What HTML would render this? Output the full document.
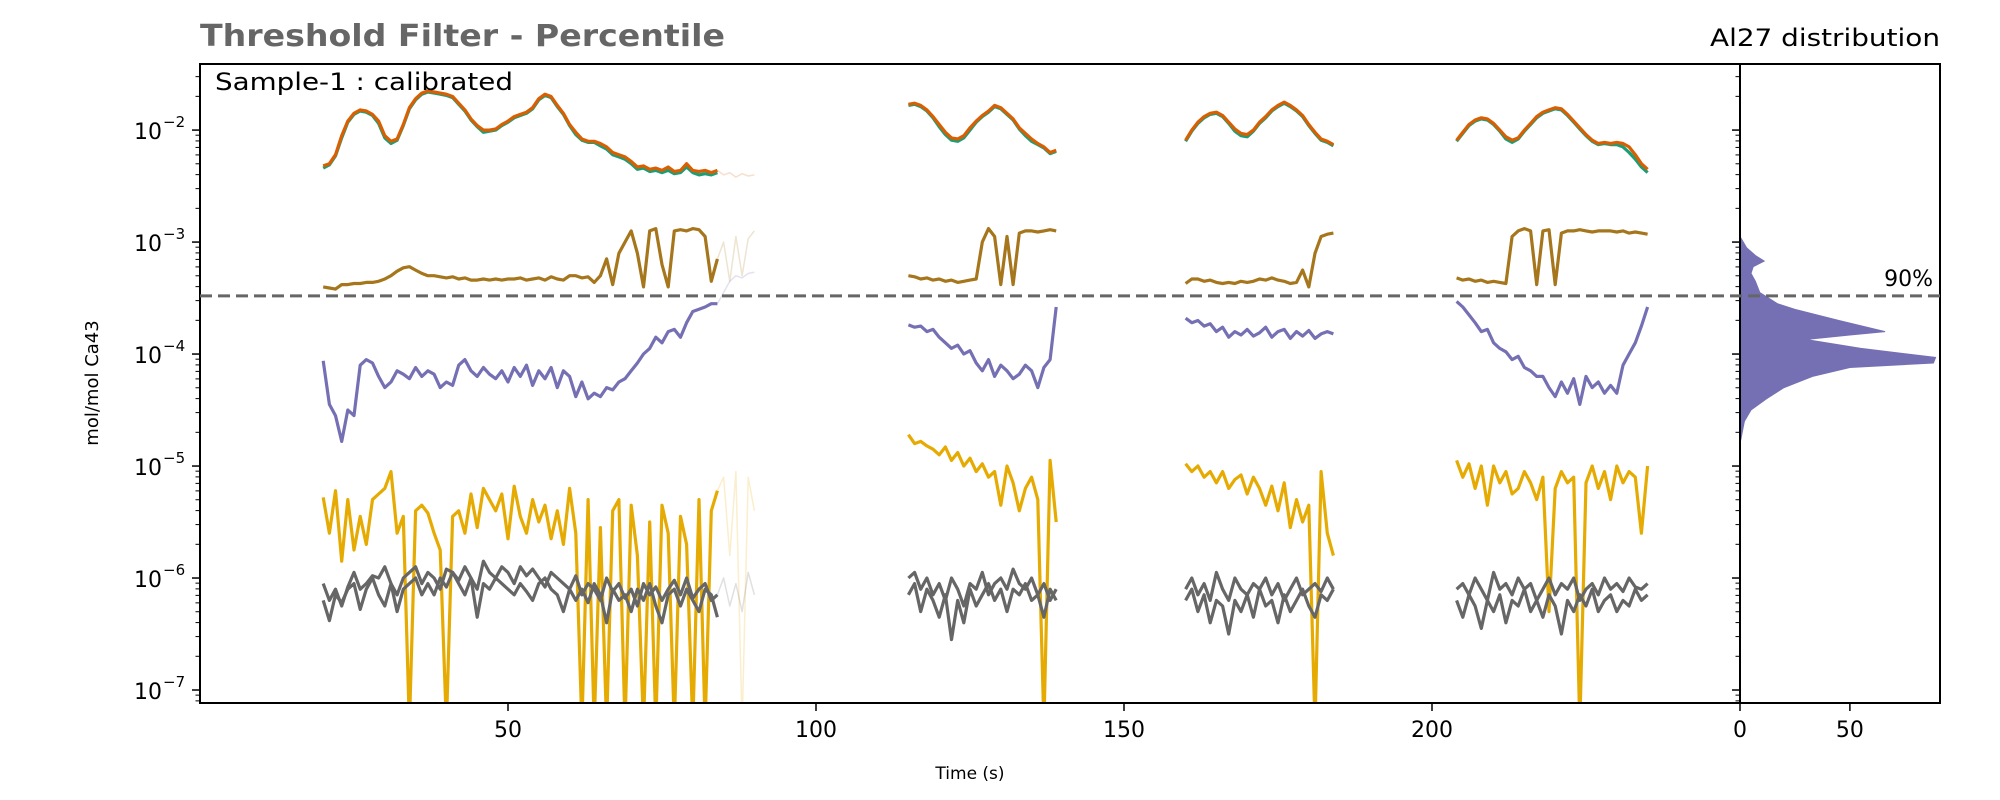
<!DOCTYPE html>
<html><head><meta charset="utf-8"><style>
html,body{margin:0;padding:0;background:#fff;}
svg{display:block;font-family:"DejaVu Sans","Liberation Sans",sans-serif;}
</style></head><body>
<svg id="chart" width="2000" height="800" viewBox="0 0 2000 800" xmlns="http://www.w3.org/2000/svg">
<text x="200" y="46" font-size="30" font-weight="bold" fill="#666" textLength="525" lengthAdjust="spacingAndGlyphs">Threshold Filter - Percentile</text>
<text x="1940" y="46" font-size="24" text-anchor="end" fill="#000" textLength="230" lengthAdjust="spacingAndGlyphs">Al27 distribution</text>
<text transform="translate(98,383) rotate(-90)" font-size="18" text-anchor="middle">mol/mol Ca43</text>
<text x="970" y="779" font-size="17" text-anchor="middle">Time (s)</text>
<g id="main"></g>
<g id="side"></g>
</svg>
<script>
// ---- data (log10 mol/mol Ca43), 1 s sampling per segment ----
const segStarts = [20, 115, 160, 204];
const orangeS = [
[-2.32,-2.3,-2.22,-2.05,-1.92,-1.85,-1.82,-1.83,-1.86,-1.92,-2.05,-2.1,-2.08,-1.95,-1.8,-1.72,-1.67,-1.65,-1.66,-1.67,-1.68,-1.7,-1.76,-1.82,-1.9,-1.96,-2.0,-2.0,-1.99,-1.95,-1.92,-1.88,-1.86,-1.84,-1.8,-1.72,-1.68,-1.7,-1.78,-1.85,-1.95,-2.02,-2.08,-2.1,-2.1,-2.12,-2.15,-2.2,-2.22,-2.24,-2.28,-2.33,-2.32,-2.35,-2.34,-2.36,-2.33,-2.37,-2.36,-2.3,-2.36,-2.37,-2.36,-2.38,-2.36],
[-1.77,-1.76,-1.78,-1.82,-1.88,-1.95,-2.02,-2.07,-2.08,-2.05,-1.98,-1.92,-1.87,-1.83,-1.78,-1.8,-1.85,-1.9,-1.98,-2.03,-2.08,-2.12,-2.15,-2.2,-2.18],
[-2.09,-2.0,-1.93,-1.88,-1.85,-1.84,-1.87,-1.93,-1.99,-2.03,-2.04,-2.0,-1.93,-1.88,-1.82,-1.78,-1.75,-1.78,-1.82,-1.87,-1.95,-2.02,-2.08,-2.1,-2.13],
[-2.09,-2.02,-1.95,-1.91,-1.89,-1.9,-1.94,-2.0,-2.06,-2.09,-2.07,-2.0,-1.94,-1.88,-1.84,-1.82,-1.8,-1.81,-1.86,-1.92,-1.98,-2.04,-2.09,-2.12,-2.11,-2.12,-2.11,-2.12,-2.15,-2.22,-2.3,-2.35]];
const greenS = [
[-2.34,-2.31,-2.23,-2.07,-1.93,-1.86,-1.83,-1.84,-1.87,-1.94,-2.07,-2.12,-2.09,-1.96,-1.81,-1.73,-1.68,-1.66,-1.67,-1.68,-1.69,-1.71,-1.77,-1.83,-1.91,-1.97,-2.02,-2.01,-2.0,-1.96,-1.93,-1.89,-1.87,-1.85,-1.81,-1.73,-1.69,-1.71,-1.79,-1.86,-1.96,-2.04,-2.09,-2.11,-2.11,-2.14,-2.17,-2.22,-2.24,-2.26,-2.3,-2.35,-2.34,-2.37,-2.36,-2.38,-2.36,-2.39,-2.38,-2.33,-2.38,-2.4,-2.39,-2.4,-2.38],
[-1.78,-1.77,-1.79,-1.83,-1.89,-1.97,-2.04,-2.09,-2.1,-2.07,-2.0,-1.93,-1.88,-1.84,-1.79,-1.81,-1.86,-1.91,-1.99,-2.05,-2.1,-2.13,-2.16,-2.21,-2.19],
[-2.1,-2.01,-1.94,-1.89,-1.86,-1.85,-1.88,-1.94,-2.01,-2.05,-2.06,-2.01,-1.94,-1.89,-1.83,-1.79,-1.76,-1.79,-1.83,-1.88,-1.96,-2.03,-2.09,-2.11,-2.14],
[-2.1,-2.03,-1.96,-1.92,-1.9,-1.91,-1.95,-2.01,-2.08,-2.11,-2.08,-2.01,-1.95,-1.89,-1.85,-1.83,-1.81,-1.82,-1.87,-1.93,-1.99,-2.05,-2.1,-2.13,-2.12,-2.13,-2.13,-2.15,-2.2,-2.26,-2.33,-2.38]];
const brownS = [
[-3.4,-3.41,-3.42,-3.38,-3.38,-3.37,-3.37,-3.36,-3.36,-3.35,-3.33,-3.3,-3.26,-3.23,-3.22,-3.25,-3.28,-3.3,-3.3,-3.31,-3.32,-3.31,-3.33,-3.32,-3.34,-3.34,-3.33,-3.34,-3.33,-3.34,-3.33,-3.33,-3.32,-3.34,-3.33,-3.32,-3.34,-3.31,-3.33,-3.34,-3.3,-3.3,-3.32,-3.31,-3.36,-3.3,-3.15,-3.38,-3.1,-3.0,-2.9,-3.1,-3.4,-2.9,-2.88,-3.2,-3.4,-2.9,-2.89,-2.9,-2.88,-2.89,-2.95,-3.35,-3.15],
[-3.3,-3.31,-3.33,-3.32,-3.34,-3.33,-3.35,-3.34,-3.36,-3.35,-3.34,-3.33,-3.0,-2.88,-2.95,-3.38,-2.95,-3.38,-2.92,-2.9,-2.9,-2.91,-2.9,-2.89,-2.9],
[-3.37,-3.33,-3.33,-3.35,-3.34,-3.36,-3.37,-3.36,-3.37,-3.35,-3.36,-3.35,-3.33,-3.34,-3.32,-3.34,-3.35,-3.37,-3.36,-3.25,-3.4,-3.1,-2.95,-2.93,-2.92],
[-3.32,-3.34,-3.33,-3.35,-3.34,-3.36,-3.35,-3.36,-3.37,-2.95,-2.9,-2.88,-2.9,-3.38,-2.9,-2.89,-3.38,-2.92,-2.9,-2.9,-2.89,-2.9,-2.91,-2.9,-2.9,-2.9,-2.91,-2.9,-2.92,-2.91,-2.92,-2.93]];
const purpleS = [
[-4.06,-4.45,-4.55,-4.78,-4.5,-4.55,-4.1,-4.05,-4.08,-4.2,-4.3,-4.25,-4.15,-4.18,-4.22,-4.12,-4.2,-4.15,-4.18,-4.3,-4.25,-4.28,-4.1,-4.05,-4.15,-4.2,-4.12,-4.18,-4.22,-4.15,-4.25,-4.12,-4.2,-4.1,-4.28,-4.15,-4.22,-4.12,-4.3,-4.15,-4.2,-4.38,-4.25,-4.4,-4.35,-4.38,-4.3,-4.32,-4.25,-4.22,-4.15,-4.08,-4.0,-3.95,-3.85,-3.9,-3.8,-3.78,-3.85,-3.72,-3.62,-3.6,-3.58,-3.55,-3.55],
[-3.74,-3.76,-3.75,-3.8,-3.78,-3.85,-3.9,-3.95,-3.92,-4.0,-3.97,-4.08,-4.15,-4.05,-4.2,-4.1,-4.15,-4.22,-4.18,-4.1,-4.15,-4.3,-4.12,-4.05,-3.58],
[-3.68,-3.72,-3.7,-3.75,-3.73,-3.8,-3.76,-3.85,-3.8,-3.83,-3.78,-3.84,-3.81,-3.76,-3.85,-3.8,-3.78,-3.86,-3.8,-3.84,-3.79,-3.86,-3.82,-3.8,-3.82],
[-3.53,-3.58,-3.65,-3.72,-3.8,-3.78,-3.9,-3.95,-3.98,-4.05,-4.02,-4.12,-4.15,-4.2,-4.2,-4.3,-4.38,-4.25,-4.35,-4.22,-4.45,-4.2,-4.3,-4.25,-4.35,-4.28,-4.35,-4.1,-4.0,-3.9,-3.75,-3.58]];
const yellowS = [
[-5.28,-5.6,-5.22,-5.85,-5.3,-5.75,-5.45,-5.7,-5.3,-5.25,-5.2,-5.05,-5.6,-5.45,-8,-5.4,-5.35,-5.42,-5.6,-5.75,-8,-5.45,-5.4,-5.6,-5.25,-5.55,-5.2,-5.3,-5.4,-5.25,-5.65,-5.18,-5.45,-5.6,-5.3,-5.5,-5.35,-5.65,-5.4,-5.7,-5.2,-5.6,-8,-5.3,-8,-5.55,-8,-5.4,-5.3,-8,-5.35,-5.8,-8,-5.5,-8,-5.35,-5.6,-8,-5.45,-5.7,-8,-5.3,-8,-5.4,-5.22],
[-4.72,-4.8,-4.78,-4.82,-4.85,-4.9,-4.83,-4.95,-4.88,-5.0,-4.93,-5.05,-4.98,-5.1,-5.05,-5.35,-5.0,-5.15,-5.4,-5.2,-5.1,-5.3,-8,-4.95,-5.5],
[-4.98,-5.05,-5.0,-5.1,-5.05,-5.15,-5.05,-5.2,-5.12,-5.08,-5.25,-5.1,-5.2,-5.35,-5.18,-5.4,-5.15,-5.55,-5.3,-5.5,-5.35,-8,-5.05,-5.6,-5.8],
[-4.95,-5.1,-4.98,-5.2,-5.0,-5.35,-5.0,-5.15,-5.05,-5.25,-5.2,-5.05,-5.15,-5.3,-5.1,-6.3,-5.2,-5.05,-5.15,-5.1,-8,-5.15,-5.0,-5.2,-5.05,-5.3,-5.0,-5.15,-5.05,-5.1,-5.6,-5.0]];
const grayAS = [
[-6.05,-6.2,-6.1,-6.25,-6.08,-5.95,-6.1,-6.05,-5.98,-6.0,-5.9,-6.05,-6.15,-6.0,-5.95,-5.9,-6.05,-5.95,-6.0,-6.1,-5.92,-5.95,-6.02,-5.9,-6.0,-6.1,-5.85,-5.95,-6.0,-5.9,-5.95,-6.05,-5.9,-5.98,-5.92,-6.0,-6.08,-5.95,-6.0,-6.05,-6.1,-5.98,-6.15,-6.05,-6.1,-6.2,-6.0,-6.12,-6.05,-6.18,-6.1,-6.25,-6.05,-6.15,-6.08,-6.2,-6.1,-6.02,-6.15,-6.0,-6.18,-6.1,-6.05,-6.2,-6.15],
[-6.0,-5.95,-6.1,-6.0,-6.15,-6.05,-6.2,-6.0,-6.1,-6.25,-6.05,-6.1,-5.95,-6.15,-6.05,-6.0,-6.1,-5.92,-6.05,-6.1,-6.0,-6.15,-6.05,-6.2,-6.1],
[-6.1,-6.0,-6.15,-6.05,-6.2,-5.95,-6.1,-6.2,-6.0,-6.1,-6.15,-6.05,-6.1,-6.0,-6.15,-6.05,-6.2,-6.1,-6.0,-6.15,-6.1,-6.05,-6.12,-6.0,-6.1],
[-6.1,-6.05,-6.15,-6.0,-6.1,-6.2,-5.95,-6.1,-6.05,-6.15,-6.0,-6.1,-6.05,-6.2,-6.1,-6.0,-6.15,-6.05,-6.1,-6.0,-6.2,-6.1,-6.05,-6.15,-6.0,-6.1,-6.05,-6.12,-6.0,-6.08,-6.1,-6.05]];
const grayBS = [
[-6.2,-6.38,-6.15,-6.22,-6.1,-6.05,-6.28,-6.1,-6.0,-6.15,-6.25,-6.05,-6.3,-6.1,-6.05,-6.0,-6.15,-6.05,-6.15,-6.0,-6.08,-5.95,-6.05,-6.15,-6.0,-6.35,-6.05,-6.1,-6.0,-6.05,-6.1,-6.15,-6.05,-6.12,-6.2,-6.05,-6.0,-6.1,-6.15,-6.3,-6.1,-6.2,-6.1,-6.22,-6.05,-6.15,-6.4,-6.1,-6.2,-6.15,-6.3,-6.1,-6.2,-6.05,-6.25,-6.4,-6.15,-6.1,-6.25,-6.1,-6.2,-6.3,-6.1,-6.15,-6.35],
[-6.15,-6.05,-6.3,-6.1,-6.2,-6.35,-6.15,-6.55,-6.2,-6.4,-6.1,-6.25,-6.15,-6.05,-6.2,-6.1,-6.3,-6.1,-6.15,-6.05,-6.2,-6.15,-6.35,-6.1,-6.2],
[-6.2,-6.1,-6.3,-6.15,-6.4,-6.2,-6.25,-6.5,-6.2,-6.3,-6.15,-6.35,-6.1,-6.25,-6.2,-6.4,-6.15,-6.3,-6.2,-6.1,-6.25,-6.35,-6.15,-6.2,-6.1],
[-6.2,-6.35,-6.15,-6.25,-6.45,-6.2,-6.3,-6.15,-6.4,-6.2,-6.25,-6.1,-6.3,-6.2,-6.35,-6.15,-6.25,-6.5,-6.2,-6.3,-6.15,-6.25,-6.1,-6.3,-6.2,-6.15,-6.3,-6.2,-6.25,-6.1,-6.2,-6.15]];
// faded (filtered-out) tails after segment 1, t = 84..90
const fadeStart = 84;
const fadeOrange = [-2.36,-2.4,-2.38,-2.42,-2.39,-2.41,-2.4];
const fadeBrown = [-3.15,-3.0,-3.35,-2.95,-3.3,-2.97,-2.9];
const fadePurple = [-3.55,-3.45,-3.35,-3.3,-3.32,-3.28,-3.27];
const fadeYellow = [-5.22,-5.1,-5.8,-5.05,-8,-5.1,-5.4];
const fadeGray = [-6.15,-6.0,-6.25,-6.05,-6.3,-5.95,-6.15];
const thresholdLog = -3.48;
const xTicks = [50, 100, 150, 200];
const yDecades = [-7, -6, -5, -4, -3, -2];
const histLog = [-2.95,-3.05,-3.12,-3.17,-3.22,-3.28,-3.35,-3.45,-3.55,-3.6,-3.7,-3.8,-3.83,-3.87,-3.95,-4.03,-4.08,-4.12,-4.2,-4.3,-4.4,-4.5,-4.6,-4.7,-4.8];
const histVal = [0,3,7,11,6,5,7,9,17,25,45,66,50,30,55,89,88,50,33,20,12,5,2,1,0];
const histTicks = [0, 50];

// ---- axes ----
const NS = "http://www.w3.org/2000/svg";
const L = 200, R = 1740, T = 64, B = 703;
const xMin = 0, xMax = 250, yTop = -1.41, yBot = -7.116;
const HL = 1740, HR = 1940, hMax = 91;
const X = t => L + (t - xMin) / (xMax - xMin) * (R - L);
const Y = v => T + (yTop - Math.max(v, yBot - 0.2)) / (yTop - yBot) * (B - T);
const HX = v => HL + v / hMax * (HR - HL);
function el(tag, attrs, parent) {
  const e = document.createElementNS(NS, tag);
  for (const k in attrs) e.setAttribute(k, attrs[k]);
  parent.appendChild(e); return e;
}
const main = document.getElementById('main'), side = document.getElementById('side');
const defs = el('defs', {}, main);
const cp = el('clipPath', {id: 'clipMain'}, defs);
el('rect', {x: L, y: T, width: R - L, height: B - T}, cp);
const plot = el('g', {'clip-path': 'url(#clipMain)'}, main);



function line(vals, t0, color, width, opacity, name) {
  const d = vals.map((v, i) => (i ? 'L' : 'M') + X(t0 + i).toFixed(1) + ' ' + Y(v).toFixed(1)).join(' ');
  const p = el('path', {d: d, fill: 'none', stroke: color, 'stroke-width': width, 'stroke-opacity': opacity, 'stroke-linejoin': 'round'}, plot);
  
  
}
line(fadeOrange, fadeStart, '#d95f02', 1.5, 0.2, 'faded-orange-tail');
line(fadeBrown, fadeStart, '#a6761d', 1.5, 0.2, 'faded-brown-tail');
line(fadePurple, fadeStart, '#7570b3', 1.5, 0.2, 'faded-purple-tail');
line(fadeYellow, fadeStart, '#e6ab02', 1.5, 0.2, 'faded-yellow-tail');
line(fadeGray, fadeStart, '#666666', 1.5, 0.2, 'faded-gray-tail');
segStarts.forEach((s, k) => {
  line(yellowS[k], s, '#e6ab02', 3.2, 1, 'yellow-series-seg' + (k + 1));
  line(grayBS[k], s, '#666666', 3.2, 1, 'gray-series-b-seg' + (k + 1));
  line(grayAS[k], s, '#666666', 3.2, 1, 'gray-series-a-seg' + (k + 1));
  line(purpleS[k], s, '#7570b3', 3.2, 1, 'purple-series-seg' + (k + 1));
  line(brownS[k], s, '#a6761d', 3.2, 1, 'brown-series-seg' + (k + 1));
  line(greenS[k], s, '#1b9e77', 3.2, 1, 'green-series-seg' + (k + 1));
  line(orangeS[k], s, '#d95f02', 3.2, 1, 'orange-series-seg' + (k + 1));
});

const frame = el('rect', {x: L, y: T, width: R - L, height: B - T, fill: 'none', stroke: '#000', 'stroke-width': 2}, main);


xTicks.forEach(t => {
  el('line', {x1: X(t), x2: X(t), y1: B, y2: B + 8, stroke: '#000', 'stroke-width': 1.5}, main);
  const tx = el('text', {x: X(t), y: B + 34, 'font-size': 22, 'text-anchor': 'middle'}, main);
  tx.textContent = t;
  
  
});
function yTicks(x0, labels) {
  for (let d = -8; d <= -1; d++) {
    for (let m = 1; m <= 9; m++) {
      const v = d + Math.log10(m);
      if (v > yTop || v < yBot) continue;
      const len = m === 1 ? 8 : 4.5;
      el('line', {x1: x0 - len, x2: x0, y1: Y(v), y2: Y(v), stroke: '#000', 'stroke-width': m === 1 ? 1.5 : 1}, main);
    }
  }
  if (labels) yDecades.forEach(d => {
    const tx = el('text', {x: x0 - 38, y: Y(d) + 9, 'font-size': 22, 'text-anchor': 'end'}, main);
    tx.textContent = '10';
    
    
    const sup = el('text', {x: x0 - 37, y: Y(d) - 3, 'font-size': 15, 'text-anchor': 'start'}, main);
    sup.textContent = '\u2212' + (-d);
    
    
  });
}
yTicks(L, true);

const hd = 'M' + HX(0) + ' ' + Y(histLog[0]) + ' ' + histLog.map((v, i) => 'L' + HX(histVal[i]).toFixed(1) + ' ' + Y(v).toFixed(1)).join(' ') + ' L' + HX(0) + ' ' + Y(histLog[histLog.length - 1]) + ' Z';
const hp = el('path', {d: hd, fill: '#7570b3', stroke: '#7570b3', 'stroke-width': 1}, side);


const hf = el('rect', {x: HL, y: T, width: HR - HL, height: B - T, fill: 'none', stroke: '#000', 'stroke-width': 2}, side);


yTicks(HL, false);
histTicks.forEach(v => {
  el('line', {x1: HX(v), x2: HX(v), y1: B, y2: B + 8, stroke: '#000', 'stroke-width': 1.5}, side);
  const tx = el('text', {x: HX(v), y: B + 34, 'font-size': 22, 'text-anchor': 'middle'}, side);
  tx.textContent = v;
  
  
});

const th = el('line', {x1: L, x2: HR, y1: Y(thresholdLog), y2: Y(thresholdLog), stroke: '#666', 'stroke-width': 3, 'stroke-dasharray': '12 6'}, side);


const tl = el('text', {x: 1933, y: Y(thresholdLog) - 10, 'font-size': 22, 'text-anchor': 'end'}, side);
tl.textContent = '90%';



const st = el('text', {x: 215, y: 90, 'font-size': 24, textLength: 298, lengthAdjust: 'spacingAndGlyphs'}, main);
st.textContent = 'Sample-1 : calibrated';


</script>
</body></html>
